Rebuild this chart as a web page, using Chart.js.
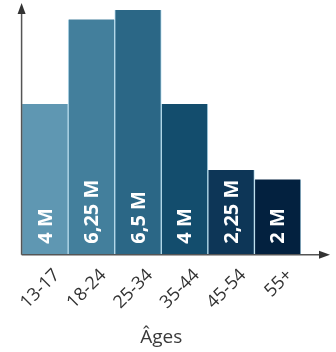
<!DOCTYPE html>
<html>
<head>
<meta charset="utf-8">
<script src="https://cdn.jsdelivr.net/npm/chart.js@4"></script>
<style>
  html, body { margin: 0; padding: 0; background: #fff; }
  #wrap { width: 336px; height: 352px; }
</style>
</head>
<body>
<div id="wrap"><canvas id="ageChart"></canvas></div>
<script>
// --- Data ---
const ageGroups = ['13-17', '18-24', '25-34', '35-44', '45-54', '55+'];
const audience = [4, 6.25, 6.5, 4, 2.25, 2];           // millions
const valueLabels = ['4 M', '6,25 M', '6,5 M', '4 M', '2,25 M', '2 M'];
const barColors = ['#5f97b2', '#437f9c', '#2b6786', '#134d6d', '#0d3657', '#03213f'];

// Draw the two axis lines with arrow heads
const arrowAxes = {
    id: 'arrowAxes',
    afterDatasetsDraw(chart) {
        const { ctx, chartArea } = chart;
        const x0 = chartArea.left;
        const y0 = chartArea.bottom;
        ctx.save();
        ctx.strokeStyle = '#555';
        ctx.fillStyle = '#333';
        ctx.lineWidth = 1.5;
        ctx.beginPath();
        ctx.moveTo(x0, y0);
        ctx.lineTo(x0, 10);
        ctx.moveTo(x0, y0);
        ctx.lineTo(322, y0);
        ctx.stroke();
        // up arrow
        ctx.beginPath();
        ctx.moveTo(x0, 3);
        ctx.lineTo(x0 - 4, 14);
        ctx.lineTo(x0 + 4, 14);
        ctx.closePath();
        ctx.fill();
        // right arrow
        ctx.beginPath();
        ctx.moveTo(330, y0);
        ctx.lineTo(319, y0 - 4);
        ctx.lineTo(319, y0 + 4);
        ctx.closePath();
        ctx.fill();
        ctx.restore();
    }
};

// Vertical value labels inside each bar
const barText = {
    id: 'barText',
    afterDatasetsDraw(chart) {
        const { ctx } = chart;
        const meta = chart.getDatasetMeta(0);
        ctx.save();
        ctx.fillStyle = '#fff';
        ctx.font = 'bold 20px "Open Sans"';
        ctx.textAlign = 'left';
        ctx.textBaseline = 'middle';
        meta.data.forEach((bar, i) => {
            ctx.save();
            ctx.translate(bar.x, bar.base - 11);
            ctx.rotate(-Math.PI / 2);
            ctx.fillText(valueLabels[i], 0, 1);
            ctx.restore();
        });
        ctx.restore();
    }
};

new Chart(document.getElementById('ageChart'), {
    type: 'bar',
    data: {
        labels: ageGroups,
        datasets: [{
            data: audience,
            backgroundColor: barColors,
            borderColor: '#b8dcec',
            borderWidth: { left: 1, right: 1, top: 0, bottom: 0 },
            borderSkipped: false,
            barPercentage: 1,
            categoryPercentage: 1
        }]
    },
    options: {
        responsive: true,
        maintainAspectRatio: false,
        animation: false,
        layout: { padding: { top: 10, left: 20, right: 35, bottom: 3 } },
        plugins: {
            legend: { display: false },
            tooltip: { enabled: false }
        },
        scales: {
            y: {
                display: false,
                min: 0,
                max: 6.5
            },
            x: {
                grid: { display: false, drawTicks: false },
                border: { display: false },
                ticks: {
                    minRotation: 45,
                    maxRotation: 45,
                    padding: 10,
                    labelOffset: 12,
                    color: '#333',
                    font: { family: '"Open Sans"', size: 18 }
                },
                title: {
                    display: true,
                    text: 'Âges',
                    color: '#3a3a3a',
                    padding: { top: 3, bottom: 0 },
                    font: { family: '"Open Sans"', size: 19 }
                }
            }
        }
    },
    plugins: [arrowAxes, barText]
});
</script>
</body>
</html>
